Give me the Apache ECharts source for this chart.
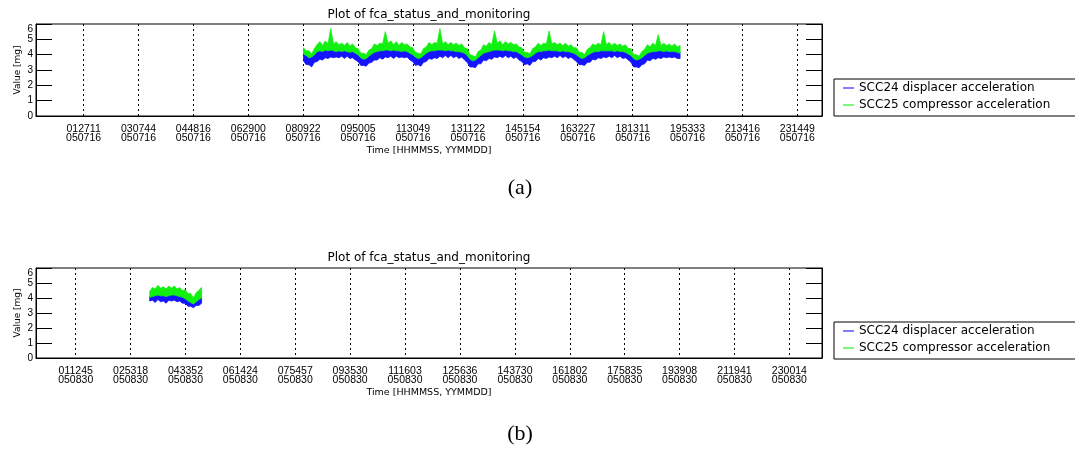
<!DOCTYPE html>
<html>
<head>
<meta charset="utf-8">
<script src="https://cdn.jsdelivr.net/npm/echarts@6/dist/echarts.min.js"></script>
<style>
  html, body { margin: 0; padding: 0; background: #fff; }
  #chart { width: 1075px; height: 462px; }
</style>
</head>
<body>
<div id="chart"></div>
<script>
// Series names shared by both panels
const seriesNames = ['SCC24 displacer acceleration', 'SCC25 compressor acceleration'];

// Time tick labels (HHMMSS) and the date line (YYMMDD) for each day
const ticksA = ['012711', '030744', '044816', '062900', '080922', '095005', '113049',
                '131122', '145154', '163227', '181311', '195333', '213416', '231449'];
const dateA = '050716';
const ticksB = ['011245', '025318', '043352', '061424', '075457', '093530', '111603',
                '125636', '143730', '161802', '175835', '193908', '211941', '230014'];
const dateB = '050830';

// Day 050716: envelope of each noisy trace, one row every 300 s from 29400 s (seconds of day)
const startA = 29400;
const stepA = 300;
const greenHiA = [
  4.45,4.25,4.25,4.05,4.40,4.65,4.85,4.60,4.90,4.70,5.70,4.70,4.85,4.65,4.75,4.60,4.80,4.55,4.70,4.45,
  4.40,4.10,4.10,4.00,4.30,4.40,4.70,4.60,4.75,4.70,5.50,4.75,4.90,4.65,4.85,4.60,4.80,4.65,4.70,4.50,
  4.45,4.15,4.10,4.05,4.40,4.50,4.80,4.65,4.80,4.75,5.70,4.70,4.85,4.65,4.80,4.65,4.75,4.60,4.70,4.45,
  4.40,4.00,3.95,3.85,4.20,4.30,4.65,4.55,4.80,4.65,5.55,4.75,4.90,4.65,4.85,4.70,4.80,4.65,4.70,4.50,
  4.45,4.15,4.15,4.05,4.40,4.50,4.75,4.60,4.75,4.70,5.55,4.70,4.80,4.65,4.75,4.60,4.75,4.55,4.65,4.45,
  4.45,4.15,4.15,4.00,4.35,4.45,4.70,4.60,4.75,4.65,5.50,4.65,4.80,4.60,4.75,4.60,4.70,4.55,4.65,4.40,
  4.40,4.00,4.00,3.90,4.20,4.35,4.65,4.50,4.75,4.60,5.30,4.60,4.75,4.60,4.70,4.55,4.70,4.50,4.60
];
const greenLoA = [
  4.05,3.95,3.80,3.85,4.00,4.20,4.25,4.20,4.30,4.25,4.30,4.25,4.20,4.25,4.20,4.25,4.20,4.15,4.20,4.10,
  4.00,3.80,3.70,3.75,3.90,4.05,4.15,4.20,4.25,4.25,4.30,4.30,4.25,4.30,4.25,4.25,4.20,4.25,4.20,4.10,
  4.00,3.85,3.75,3.80,3.95,4.10,4.20,4.25,4.25,4.30,4.30,4.30,4.25,4.30,4.25,4.25,4.20,4.20,4.15,4.10,
  3.95,3.70,3.60,3.65,3.80,3.95,4.10,4.15,4.20,4.25,4.30,4.30,4.30,4.25,4.30,4.25,4.25,4.20,4.20,4.10,
  4.00,3.85,3.80,3.85,3.95,4.10,4.20,4.20,4.25,4.25,4.30,4.25,4.25,4.25,4.20,4.25,4.20,4.20,4.15,4.10,
  4.00,3.85,3.75,3.80,3.95,4.05,4.15,4.20,4.20,4.25,4.25,4.25,4.25,4.25,4.20,4.25,4.20,4.20,4.15,4.05,
  3.95,3.75,3.65,3.70,3.80,3.95,4.10,4.15,4.20,4.20,4.25,4.25,4.20,4.25,4.20,4.20,4.20,4.15,4.10
];
const blueHiA = [
  4.10,3.95,3.80,3.85,4.00,4.20,4.25,4.25,4.30,4.25,4.30,4.30,4.25,4.25,4.25,4.30,4.25,4.20,4.20,4.15,
  4.05,3.85,3.75,3.80,3.95,4.10,4.20,4.25,4.30,4.30,4.30,4.30,4.30,4.30,4.30,4.25,4.25,4.25,4.20,4.15,
  4.05,3.90,3.80,3.85,4.00,4.15,4.25,4.30,4.30,4.30,4.35,4.30,4.30,4.30,4.30,4.25,4.25,4.25,4.20,4.15,
  4.00,3.75,3.65,3.70,3.85,4.00,4.15,4.20,4.25,4.30,4.35,4.35,4.35,4.30,4.30,4.30,4.30,4.25,4.25,4.15,
  4.05,3.90,3.85,3.90,4.00,4.15,4.25,4.25,4.30,4.30,4.30,4.30,4.30,4.30,4.25,4.30,4.25,4.25,4.20,4.15,
  4.05,3.90,3.80,3.85,4.00,4.10,4.20,4.25,4.25,4.30,4.30,4.30,4.30,4.30,4.25,4.30,4.25,4.25,4.20,4.10,
  4.00,3.80,3.70,3.75,3.85,4.00,4.15,4.20,4.25,4.25,4.30,4.30,4.25,4.30,4.25,4.25,4.25,4.20,4.15
];
const blueLoA = [
  3.60,3.35,3.35,3.20,3.50,3.55,3.70,3.65,3.80,3.75,3.85,3.80,3.85,3.80,3.90,3.75,3.90,3.75,3.80,3.65,
  3.55,3.30,3.30,3.25,3.45,3.50,3.65,3.65,3.80,3.70,3.85,3.80,3.90,3.75,3.90,3.80,3.85,3.80,3.85,3.65,
  3.55,3.30,3.35,3.25,3.50,3.55,3.75,3.70,3.80,3.75,3.90,3.80,3.95,3.80,3.95,3.80,3.90,3.75,3.85,3.65,
  3.50,3.20,3.20,3.15,3.40,3.40,3.65,3.60,3.75,3.70,3.85,3.80,3.90,3.80,3.95,3.80,3.90,3.75,3.85,3.65,
  3.55,3.35,3.40,3.30,3.55,3.55,3.75,3.65,3.80,3.75,3.85,3.80,3.90,3.80,3.95,3.80,3.90,3.75,3.85,3.70,
  3.55,3.35,3.35,3.30,3.50,3.50,3.70,3.65,3.80,3.75,3.85,3.80,3.90,3.80,3.95,3.80,3.90,3.75,3.80,3.65,
  3.50,3.20,3.20,3.15,3.35,3.40,3.65,3.60,3.75,3.70,3.80,3.75,3.85,3.80,3.85,3.80,3.85,3.75,3.75
];

// Day 050830: one row every 300 s from 12500 s
const startB = 12500;
const stepB = 300;
const greenHiB = [4.45,4.70,4.60,4.85,4.65,4.75,4.60,4.80,4.65,4.80,4.60,4.70,4.50,4.55,4.30,4.30,4.00,4.35,4.50,4.70];
const greenLoB = [4.05,4.10,4.15,4.20,4.15,4.15,4.10,4.15,4.20,4.20,4.15,4.10,4.05,3.95,3.80,3.70,3.60,3.75,3.90,4.00];
const blueHiB  = [4.10,4.15,4.20,4.25,4.20,4.20,4.15,4.20,4.25,4.25,4.20,4.15,4.10,4.00,3.85,3.75,3.65,3.80,3.95,4.05];
const blueLoB  = [3.80,3.85,3.70,3.90,3.75,3.80,3.65,3.85,3.80,3.85,3.75,3.80,3.65,3.65,3.45,3.45,3.35,3.50,3.50,3.65];

const BLUE = '#1414ff';
const GREEN = '#12f012';
const labelFont = 'Liberation Sans';
const textFont = 'DejaVu Sans';

function toSeconds(hhmmss) {
  return (+hhmmss.slice(0, 2)) * 3600 + (+hhmmss.slice(2, 4)) * 60 + (+hhmmss.slice(4, 6));
}

const grids = [
  { left: 36, top: 24, width: 786, height: 92 },
  { left: 36, top: 268, width: 786, height: 90 }
];

function makeXAxis(gridIndex, ticks, date) {
  const secs = ticks.map(toSeconds);
  return {
    type: 'value', gridIndex, min: 0, max: 86400,
    axisLine: { show: true, lineStyle: { color: '#000', width: 1 } },
    axisTick: { show: false, customValues: secs },
    axisLabel: {
      customValues: secs,
      color: '#000', fontFamily: labelFont, fontSize: 10.5, lineHeight: 9, margin: 8.5,
      formatter: v => {
        const i = secs.indexOf(v);
        return i < 0 ? '' : ticks[i] + '\n' + date;
      }
    },
    splitLine: { show: true, lineStyle: { color: '#000', width: 1, type: [2, 3] } },
    name: 'Time [HHMMSS, YYMMDD]', nameLocation: 'middle', nameGap: 30,
    nameTextStyle: { color: '#000', fontFamily: textFont, fontSize: 9.5 }
  };
}

function makeYAxes(gridIndex) {
  return [
    {
      type: 'value', gridIndex, position: 'left', min: 0, max: 6, interval: 1,
      axisLine: { show: true, lineStyle: { color: '#000' } },
      axisTick: { show: true, inside: true, length: 16, lineStyle: { color: '#000' } },
      axisLabel: { color: '#000', fontFamily: labelFont, fontSize: 10, margin: 3, verticalAlignMaxLabel: 'top' },
      splitLine: { show: false },
      name: 'Value [mg]', nameLocation: 'middle', nameGap: 14, nameRotate: 90,
      nameMoveOverlap: false,
      nameTextStyle: { color: '#000', fontFamily: textFont, fontSize: 9 }
    },
    {
      type: 'value', gridIndex, position: 'right', min: 0, max: 6, interval: 1,
      axisLine: { show: true, lineStyle: { color: '#000' } },
      axisTick: { show: true, inside: true, length: 16, lineStyle: { color: '#000' } },
      axisLabel: { show: false },
      splitLine: { show: false }
    }
  ];
}

// Filled envelope of a noisy trace: upper edge forward, lower edge back
function makeBand(name, color, xIndex, yIndex, start, step, lo, hi) {
  return {
    type: 'custom', name, xAxisIndex: xIndex, yAxisIndex: yIndex,
    data: lo.map((v, i) => [start + i * step, v, hi[i]]),
    encode: { x: 0, y: [1, 2] },
    itemStyle: { color },
    animation: false,
    renderItem: (params, api) => {
      if (params.dataIndex !== 0) return null;
      const upper = [], lower = [];
      for (let i = 0; i < lo.length; i++) {
        const t = start + i * step;
        upper.push(api.coord([t, hi[i]]));
        lower.push(api.coord([t, lo[i]]));
      }
      return {
        type: 'polygon',
        shape: { points: upper.concat(lower.reverse()) },
        style: { fill: color, stroke: color, lineWidth: 0.8 }
      };
    }
  };
}

const lineIcon = 'path://M0,0H20V2H0Z';
function makeLegend(top) {
  return {
    data: seriesNames.map(name => ({ name, icon: lineIcon })),
    orient: 'vertical', left: 834, top,
    itemWidth: 11, itemHeight: 8, itemGap: 5,
    padding: [3, 80, 5, 9],
    borderColor: '#000', borderWidth: 1, borderRadius: 0, backgroundColor: '#fff',
    selectedMode: false,
    textStyle: { color: '#000', fontFamily: textFont, fontSize: 12, lineHeight: 12 }
  };
}

function centredText(x, y, text, font) {
  return {
    type: 'text', x, y,
    style: { text, fill: '#000', font, align: 'center', verticalAlign: 'middle' }
  };
}

const chart = echarts.init(document.getElementById('chart'), null, { renderer: 'canvas' });
chart.setOption({
  backgroundColor: '#fff',
  animation: false,
  grid: grids.map(g => Object.assign({ show: true, borderColor: '#000', borderWidth: 1 }, g)),
  xAxis: [makeXAxis(0, ticksA, dateA), makeXAxis(1, ticksB, dateB)],
  yAxis: [...makeYAxes(0), ...makeYAxes(1)],
  legend: [makeLegend(79), makeLegend(322)],
  series: [
    makeBand(seriesNames[0], BLUE, 0, 0, startA, stepA, blueLoA, blueHiA),
    makeBand(seriesNames[1], GREEN, 0, 0, startA, stepA, greenLoA, greenHiA),
    makeBand(seriesNames[0], BLUE, 1, 2, startB, stepB, blueLoB, blueHiB),
    makeBand(seriesNames[1], GREEN, 1, 2, startB, stepB, greenLoB, greenHiB)
  ],
  graphic: [
    centredText(429, 15, 'Plot of fca_status_and_monitoring', '12px "DejaVu Sans"'),
    centredText(429, 258, 'Plot of fca_status_and_monitoring', '12px "DejaVu Sans"'),
    centredText(520, 188, '(a)', '22px "Liberation Serif"'),
    centredText(520, 434, '(b)', '22px "Liberation Serif"')
  ]
});
</script>
</body>
</html>
